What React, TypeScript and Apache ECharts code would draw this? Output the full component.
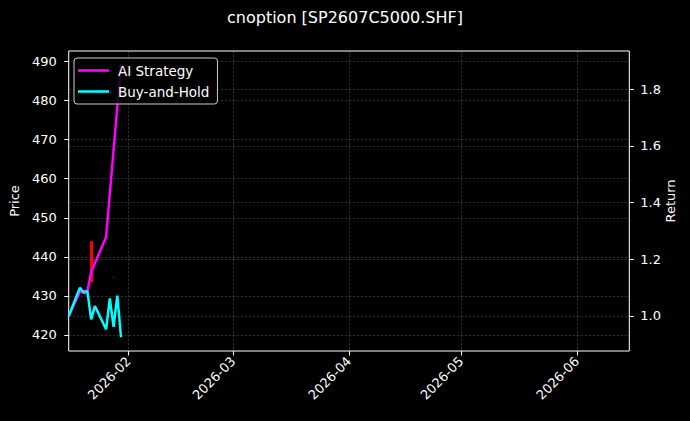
import React, { useEffect, useRef } from 'react'
import * as echarts from 'echarts'

// trading days shown on the chart
const dates = [
  '2026-01-16', '2026-01-19', '2026-01-20', '2026-01-21', '2026-01-22', '2026-01-23',
  '2026-01-26', '2026-01-27', '2026-01-28', '2026-01-29', '2026-01-30'
]
const buyHold = [1.0, 1.1, 1.082, 1.088, 0.988, 1.035, 0.953, 1.062, 0.962, 1.072, 0.925]

// AI strategy: days where the curve bends
const aiDates = ['2026-01-16', '2026-01-19', '2026-01-20', '2026-01-21', '2026-01-22', '2026-01-26', '2026-01-30']
const aiStrategy = [1.0, 1.085, 1.088, 1.088, 1.155, 1.279, 1.89]

// candles: [date, open, close, low, high]
const candles: [string, number, number, number, number][] = [
  ['2026-01-22', 443.9, 433.6, 433.6, 443.9]
]
const faintCandles: [string, number, number, number, number][] = [
  ['2026-01-28', 435.0, 434.5, 434.5, 435.0]
]

const priceTicks = [420, 430, 440, 450, 460, 470, 480, 490]
const returnTicks = [1.0, 1.2, 1.4, 1.6, 1.8]

const xMin = '2026-01-16'
const xMax = '2026-06-15'

const FONT = 'DejaVu Sans'
const gridLine = { show: true, lineStyle: { color: 'rgba(255,255,255,0.22)', width: 0.8, type: [2.5, 1.5] as number[] } }

export default function App() {
  const ref = useRef<HTMLDivElement | null>(null)

  useEffect(() => {
    document.body.style.margin = '0'
    document.body.style.background = '#000'
    if (!ref.current) return
    const chart = echarts.init(ref.current, undefined, { renderer: 'svg' })

    const opt: echarts.EChartsOption = {
      animation: false,
      backgroundColor: '#000',
      textStyle: { fontFamily: FONT },
      title: {
        text: 'cnoption [SP2607C5000.SHF]',
        left: 'center',
        top: 4,
        textStyle: { color: '#fff', fontSize: 16, fontWeight: 'normal', fontFamily: FONT }
      },
      legend: {
        data: ['AI Strategy', 'Buy-and-Hold'],
        orient: 'vertical',
        left: 74,
        top: 58,
        icon: 'rect',
        itemWidth: 31,
        itemHeight: 2.6,
        itemGap: 6,
        padding: [5, 8, 5, 4],
        backgroundColor: 'rgba(0,0,0,0.8)',
        borderColor: '#ccc',
        borderWidth: 1,
        borderRadius: 3,
        textStyle: { color: '#fff', fontSize: 13.5, fontFamily: FONT, lineHeight: 15, padding: [0, 0, 0, 4] }
      },
      grid: {
        left: 66.7, right: 60.7, top: 51, bottom: 70,
        show: true, borderColor: '#fff', borderWidth: 1, backgroundColor: 'transparent'
      },
      xAxis: {
        type: 'time',
        min: xMin,
        max: xMax,
        splitNumber: 5,
        axisLine: { show: false },
        axisTick: { show: true, length: 4.5, lineStyle: { color: '#fff' } },
        axisLabel: {
          color: '#fff', fontSize: 13, fontFamily: FONT, rotate: 45, margin: 8,
          formatter: '{yyyy}-{MM}', showMinLabel: false, showMaxLabel: false
        },
        splitLine: gridLine
      },
      yAxis: [
        {
          type: 'value',
          min: 415.9,
          max: 492.7,
          splitNumber: 8,
          name: 'Price',
          nameLocation: 'middle',
          nameRotate: 90,
          nameGap: 42,
          nameTextStyle: { color: '#fff', fontSize: 13, fontFamily: FONT },
          axisLine: { show: false },
          axisTick: { show: true, length: 4.5, lineStyle: { color: '#fff' }, customValues: priceTicks },
          axisLabel: { color: '#fff', fontSize: 13, fontFamily: FONT, margin: 12, customValues: priceTicks },
          splitLine: gridLine
        },
        {
          type: 'value',
          min: 0.8765,
          max: 1.935,
          splitNumber: 5,
          position: 'right',
          name: 'Return',
          nameLocation: 'middle',
          nameRotate: 90,
          nameGap: 35,
          nameMoveOverlap: false,
          nameTextStyle: { color: '#fff', fontSize: 13, fontFamily: FONT },
          axisLine: { show: false },
          axisTick: { show: true, length: 4.5, lineStyle: { color: '#fff' }, customValues: returnTicks },
          axisLabel: {
            color: '#fff', fontSize: 13, fontFamily: FONT, margin: 11, customValues: returnTicks,
            formatter: (v: number) => v.toFixed(1)
          },
          splitLine: gridLine
        } as any
      ],
      series: [
        {
          name: 'Price',
          type: 'candlestick',
          yAxisIndex: 0,
          barWidth: 2.5,
          encode: { x: 0, y: [1, 2, 3, 4] },
          itemStyle: { color: '#ff0000', color0: '#ff0000', borderColor: '#ff0000', borderColor0: '#ff0000', borderWidth: 1 },
          data: candles
        },
        {
          name: 'Price faint',
          type: 'candlestick',
          yAxisIndex: 0,
          barWidth: 2,
          encode: { x: 0, y: [1, 2, 3, 4] },
          itemStyle: { color: '#3a0000', color0: '#3a0000', borderColor: '#3a0000', borderColor0: '#3a0000', borderWidth: 0.5 },
          data: faintCandles
        },
        {
          name: 'AI Strategy',
          type: 'line',
          yAxisIndex: 1,
          showSymbol: false,
          lineStyle: { color: '#ff00ff', width: 2.5 },
          itemStyle: { color: '#ff00ff' },
          data: aiDates.map((d, i) => [d, aiStrategy[i]])
        },
        {
          name: 'Buy-and-Hold',
          type: 'line',
          yAxisIndex: 1,
          showSymbol: false,
          lineStyle: { color: '#00ffff', width: 2.5 },
          itemStyle: { color: '#00ffff' },
          data: dates.map((d, i) => [d, buyHold[i]])
        }
      ]
    }

    chart.setOption(opt)
    return () => { chart.dispose() }
  }, [])

  return <div ref={ref} style={{ width: 690, height: 421 }} />
}
